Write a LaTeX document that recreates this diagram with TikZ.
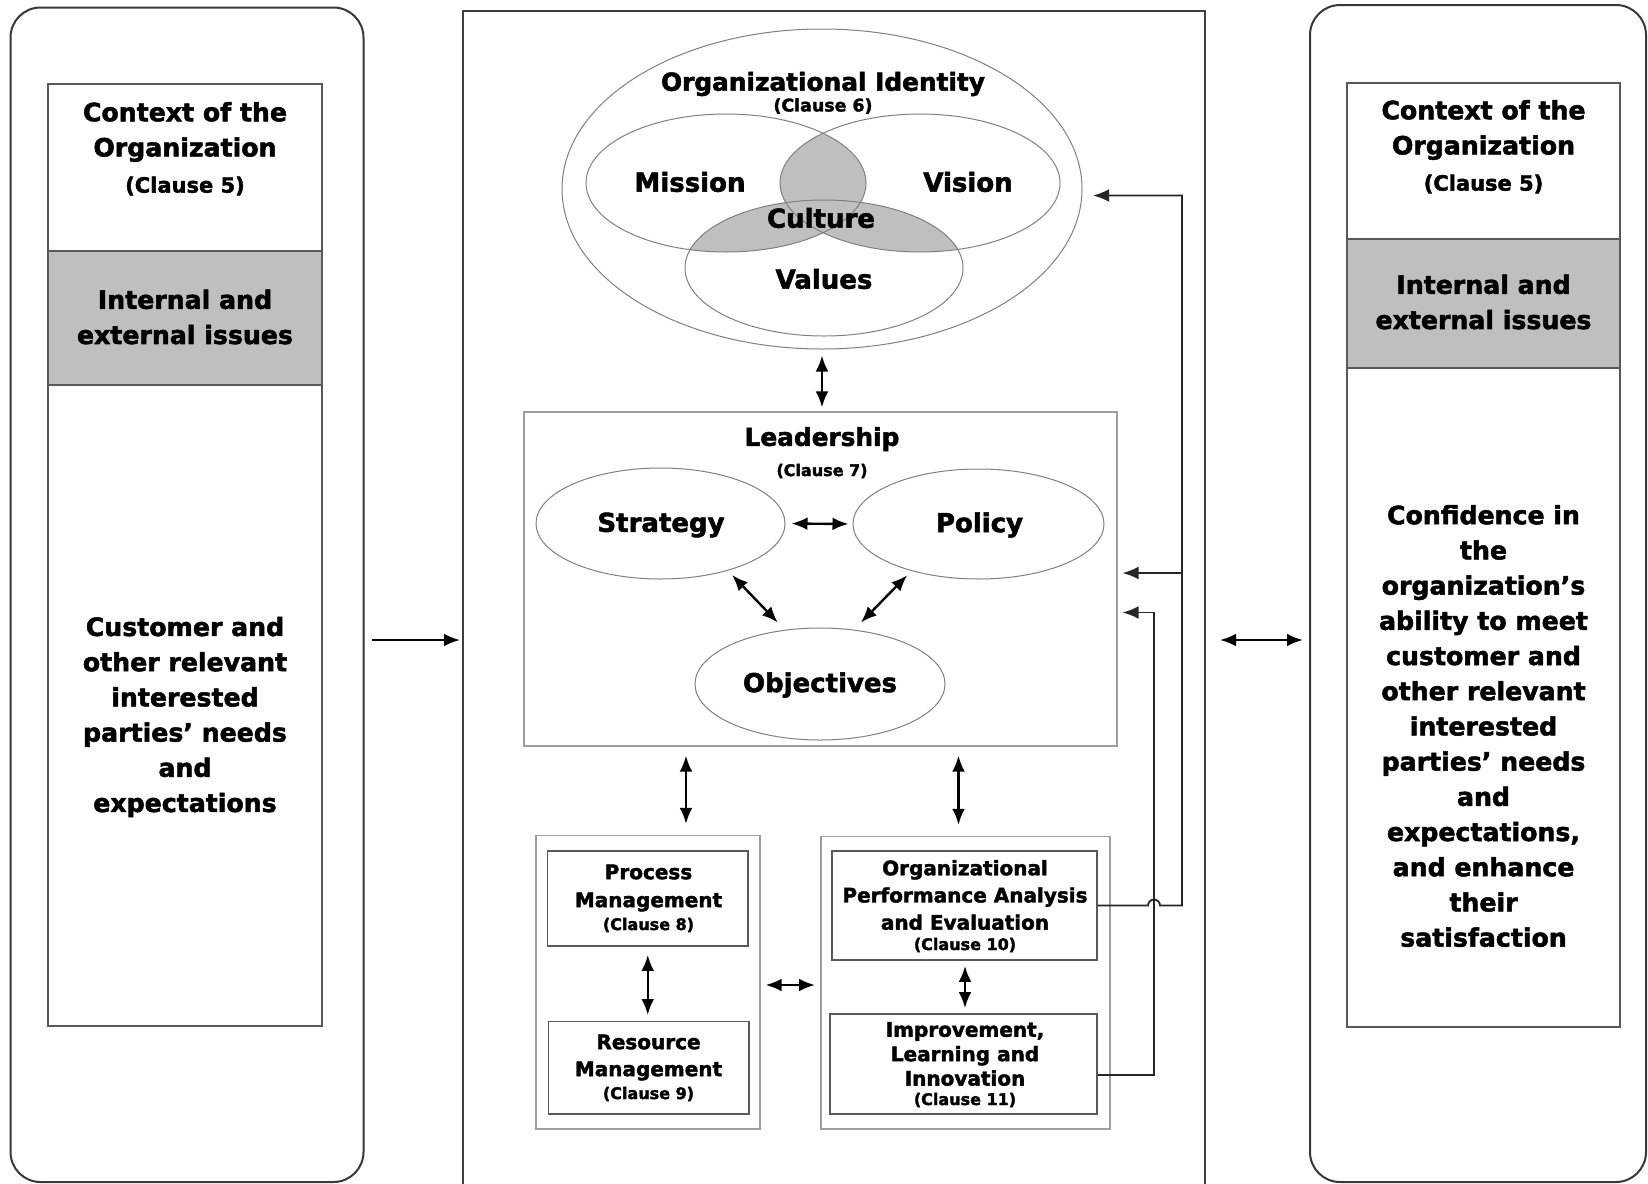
\documentclass[tikz,border=0pt]{standalone}
\usepackage{fontspec}
\setmainfont{DejaVu Sans}[BoldFeatures={FakeBold=2}]
\usetikzlibrary{arrows.meta,fit,shapes.geometric}
\begin{document}
\begin{tikzpicture}[x=0.5pt,y=-0.5pt,
  >={Latex[length=8pt,width=6.4pt]},
  every node/.style={font=\bfseries},
  panel/.style={draw=black!78, line width=1pt, rounded corners=15pt, inner sep=0pt},
  sbox/.style={draw=black!65, line width=0.9pt, inner sep=0pt},
  lbox/.style={draw=black!38, line width=0.6pt, inner sep=0pt},
  ell/.style={ellipse, draw=black!50, line width=0.5pt, inner sep=0pt},
  sidetxt/.style={align=center, inner sep=0pt, font=\bfseries\fontsize{12.6}{17.6}\selectfont},
  sideclause/.style={inner sep=0pt, font=\bfseries\fontsize{10.5}{12}\selectfont},
  titletxt/.style={align=center, inner sep=0pt, font=\bfseries\fontsize{12.4}{15}\selectfont},
  venntxt/.style={inner sep=0pt, font=\bfseries\fontsize{13}{15}\selectfont},
  smallclause/.style={inner sep=0pt, font=\bfseries\fontsize{8}{9}\selectfont},
  boxtxt/.style={align=center, inner sep=0pt, font=\bfseries\fontsize{10}{13.6}\selectfont},
  arr/.style={->, line width=1.2pt},
  dbl/.style={<->, line width=1.2pt},
  fb/.style={->, line width=0.9pt, draw=black!85},
  shade/.style={fill=gray!50}
]
\useasboundingbox (0,0) rectangle (1648,1183);
\clip (0,0) rectangle (1648,1183);
\fill[white] (0,0) rectangle (1648,1183);

% ---------- left panel ----------
\node[panel, fit={(10.5,7.5) (363.5,1182)}] (lpanel) {};
\node[sbox, fit={(48,84) (322,251)}] (lctx) {};
\node[sbox, fill=gray!50, fit={(48,251) (322,385)}] (liss) {};
\node[sbox, fit={(48,385) (322,1026)}] (lneeds) {};
\node[sidetxt] (lt1) at (185,132) {Context of the\\Organization};
\node[sideclause] (lt2) at (185,186) {(Clause 5)};
\node[sidetxt] (lt3) at (185,317) {Internal and\\external issues};
\node[sidetxt] (lt4) at (185,717) {Customer and\\other relevant\\interested\\parties’ needs\\and\\expectations};

% ---------- right panel ----------
\node[panel, fit={(1310,5) (1646,1182)}] (rpanel) {};
\node[sbox, fit={(1347,83) (1620,239)}] (rctx) {};
\node[sbox, fill=gray!50, fit={(1347,239) (1620,368)}] (riss) {};
\node[sbox, fit={(1347,368) (1620,1027)}] (rneeds) {};
\node[sidetxt] (rt1) at (1483.5,130) {Context of the\\Organization};
\node[sideclause] (rt2) at (1483.5,184) {(Clause 5)};
\node[sidetxt] (rt3) at (1483.5,302) {Internal and\\external issues};
\node[sidetxt] (rt4) at (1483.5,726) {Confidence in\\the\\organization’s\\ability to meet\\customer and\\other relevant\\interested\\parties’ needs\\and\\expectations,\\and enhance\\their\\satisfaction};

% ---------- centre box ----------
\node[sbox, draw=black!75, line width=1pt, fit={(463,10.5) (1205,1200)}] (cbox) {};

% organizational identity
\node[ell, minimum width=260pt, minimum height=160pt] (ident) at (822,189) {};
\begin{scope}
  \clip (726,183) ellipse [x radius=70pt, y radius=34.5pt];
  \fill[shade] (920,183) ellipse [x radius=70pt, y radius=34.5pt];
  \fill[shade] (824,268) ellipse [x radius=69.5pt, y radius=34pt];
\end{scope}
\begin{scope}
  \clip (920,183) ellipse [x radius=70pt, y radius=34.5pt];
  \fill[shade] (824,268) ellipse [x radius=69.5pt, y radius=34pt];
\end{scope}
\node[ell, minimum width=140pt, minimum height=69pt] (mission) at (726,183) {};
\node[ell, minimum width=140pt, minimum height=69pt] (vision) at (920,183) {};
\node[ell, minimum width=139pt, minimum height=68pt] (values) at (824,268) {};
\node[titletxt] (idt) at (823,84) {Organizational Identity};
\node[inner sep=0pt, font=\bfseries\fontsize{8.7}{10}\selectfont] (idc) at (823,106) {(Clause 6)};
\node[venntxt] (mist) at (690,182) {Mission};
\node[venntxt] (vist) at (968,182) {Vision};
\node[venntxt] (cult) at (821,218) {Culture};
\node[venntxt] (valt) at (824,279) {Values};

% leadership
\node[lbox, fit={(524,412) (1117,746)}] (lead) {};
\node[titletxt] (leadt) at (822,439) {Leadership};
\node[smallclause] (leadc) at (822,471) {(Clause 7)};
\node[ell, minimum width=124.5pt, minimum height=55.5pt] (strategy) at (660.5,523.5) {};
\node[ell, minimum width=125.5pt, minimum height=55pt] (policy) at (978.5,524) {};
\node[ell, minimum width=125pt, minimum height=56pt] (objectives) at (820,684) {};
\node[venntxt] (strt) at (661,525) {Strategy};
\node[venntxt] (polt) at (979.5,525) {Policy};
\node[venntxt] (objt) at (820,685) {Objectives};

% lower groups
\node[lbox, fit={(536,835.5) (760,1129)}] (g1) {};
\node[sbox, fit={(547.5,851) (748,946)}] (proc) {};
\node[sbox, fit={(548.5,1021.5) (749,1114)}] (res) {};
\node[lbox, fit={(821,836.5) (1110,1129)}] (g2) {};
\node[sbox, fit={(832,851) (1097,960)}] (opae) {};
\node[sbox, fit={(830,1014) (1097,1114)}] (ili) {};

\node[boxtxt, font=\bfseries\fontsize{10}{14}\selectfont] (proct) at (648.5,888) {Process\\Management};
\node[smallclause] (procc) at (648.5,925) {(Clause 8)};
\node[boxtxt, font=\bfseries\fontsize{10}{13.5}\selectfont] (rest) at (648.5,1057.5) {Resource\\Management};
\node[smallclause] (resc) at (648.5,1094) {(Clause 9)};
\node[boxtxt] (opaet) at (965,895) {Organizational\\Performance Analysis\\and Evaluation};
\node[smallclause] (opaec) at (965,945) {(Clause 10)};
\node[boxtxt, font=\bfseries\fontsize{10}{12.2}\selectfont] (ilit) at (965,1054) {Improvement,\\Learning and\\Innovation};
\node[smallclause] (ilic) at (965,1100) {(Clause 11)};

% ---------- connectors ----------
\coordinate (ymid) at (0,640);
\coordinate (xa) at (686,0);
\coordinate (xb) at (958.5,0);
\coordinate (xc) at (965,0);
\coordinate (y12) at (0,985);

\draw[arr, shorten <=3.5pt, shorten >=1pt] (lpanel.east |- ymid) -- (cbox.west |- ymid);
\draw[dbl, shorten <=7pt, shorten >=3pt] (cbox.east |- ymid) -- (rpanel.west |- ymid);

\draw[dbl, shorten <=3pt, shorten >=2pt] (ident.south) -- (lead.north -| ident.south);

\draw[dbl, shorten <=3pt, shorten >=2pt] (strategy.east) -- (policy.west);
\draw[dbl, shorten <=3pt, shorten >=5pt] (strategy.-35) -- (objectives.123);
\draw[dbl, shorten <=3pt, shorten >=5pt] (policy.215) -- (objectives.58);

\draw[dbl, shorten <=4.5pt, shorten >=5.5pt] (lead.south -| xa) -- (g1.north -| xa);
\draw[dbl, shorten <=4.5pt, shorten >=5.5pt] (lead.south -| xb) -- (g2.north -| xb);
\draw[dbl, shorten <=4pt, shorten >=2.8pt] (proc.south) -- (res.north -| proc.south);
\draw[dbl, shorten <=2.5pt, shorten >=2.7pt] (g1.east |- y12) -- (g2.west |- y12);
\draw[dbl, shorten <=2.5pt, shorten >=2.5pt] (opae.south -| xc) -- (ili.north -| xc);

% feedback lines
\coordinate (t1) at (1182,195.5);
\coordinate (a1) at (1093,195.5);
\coordinate (t2) at (1182,573);
\coordinate (a2) at (1122.5,573);
\coordinate (t3) at (1154,612.5);
\coordinate (a3) at (1122.5,612.5);
\draw[fb] (opae.east) -- (1148,905.5)
   arc[start angle=180, end angle=0, radius=3pt] -- (1182,905.5) -- (t1) -- (a1);
\draw[fb] (t2) -- (a2);
\draw[fb] ([yshift=-5.5pt]ili.east) -- (1154,1075) -- (t3) -- (a3);
\end{tikzpicture}
\end{document}
